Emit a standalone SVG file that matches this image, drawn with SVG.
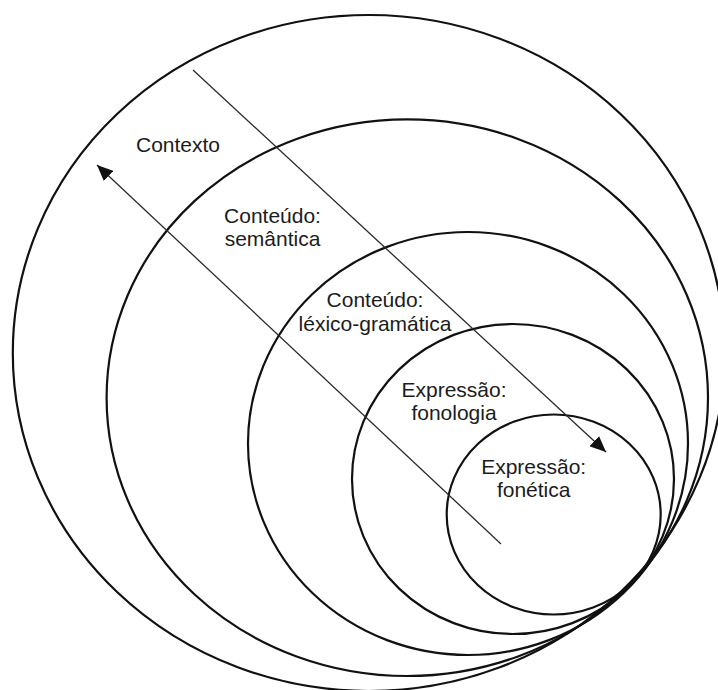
<svg xmlns="http://www.w3.org/2000/svg" width="718" height="690" viewBox="0 0 718 690">
  <style>
    .ring { fill: none; stroke: #111; stroke-width: 2.2; }
    .flow { fill: none; stroke: #2a2a2a; stroke-width: 1.3; }
    .lbl { font-family: "Liberation Sans", Arial, Helvetica, sans-serif; font-size: 21px; fill: #1c1c1c; text-anchor: middle; }
  </style>
  <defs>
    <marker id="head" markerUnits="userSpaceOnUse" markerWidth="17" markerHeight="14" refX="16" refY="7" orient="auto">
      <path d="M0,0 L16,7 L0,14 z" fill="#111"/>
    </marker>
  </defs>
  <rect width="718" height="690" fill="#fff"/>

  <g id="contexto">
    <ellipse class="ring" cx="368.8" cy="353" rx="356" ry="338"/>
    <text class="lbl" x="178" y="151.5">Contexto</text>
  </g>

  <g id="semantica">
    <ellipse class="ring" cx="407.3" cy="397.7" rx="300.7" ry="278.3"/>
    <text class="lbl" x="272.5" y="222.5">Conteúdo:</text>
    <text class="lbl" x="272.5" y="246">semântica</text>
  </g>

  <g id="lexicogramatica">
    <ellipse class="ring" cx="468" cy="443.5" rx="220" ry="211.5"/>
    <text class="lbl" x="375" y="307.3">Conteúdo:</text>
    <text class="lbl" x="375" y="330.5">léxico-gramática</text>
  </g>

  <g id="fonologia">
    <ellipse class="ring" cx="513" cy="479" rx="161" ry="155"/>
    <text class="lbl" x="454" y="396.7">Expressão:</text>
    <text class="lbl" x="454" y="419.5">fonologia</text>
  </g>

  <g id="fonetica">
    <ellipse class="ring" cx="553.7" cy="514.5" rx="107" ry="100"/>
    <text class="lbl" x="533.7" y="474">Expressão:</text>
    <text class="lbl" x="533.7" y="496.7">fonética</text>
  </g>

  <g id="connectors">
    <line class="flow" x1="193" y1="70" x2="606" y2="452" marker-end="url(#head)"/>
    <line class="flow" x1="501" y1="544" x2="97" y2="165" marker-end="url(#head)"/>
  </g>
</svg>
